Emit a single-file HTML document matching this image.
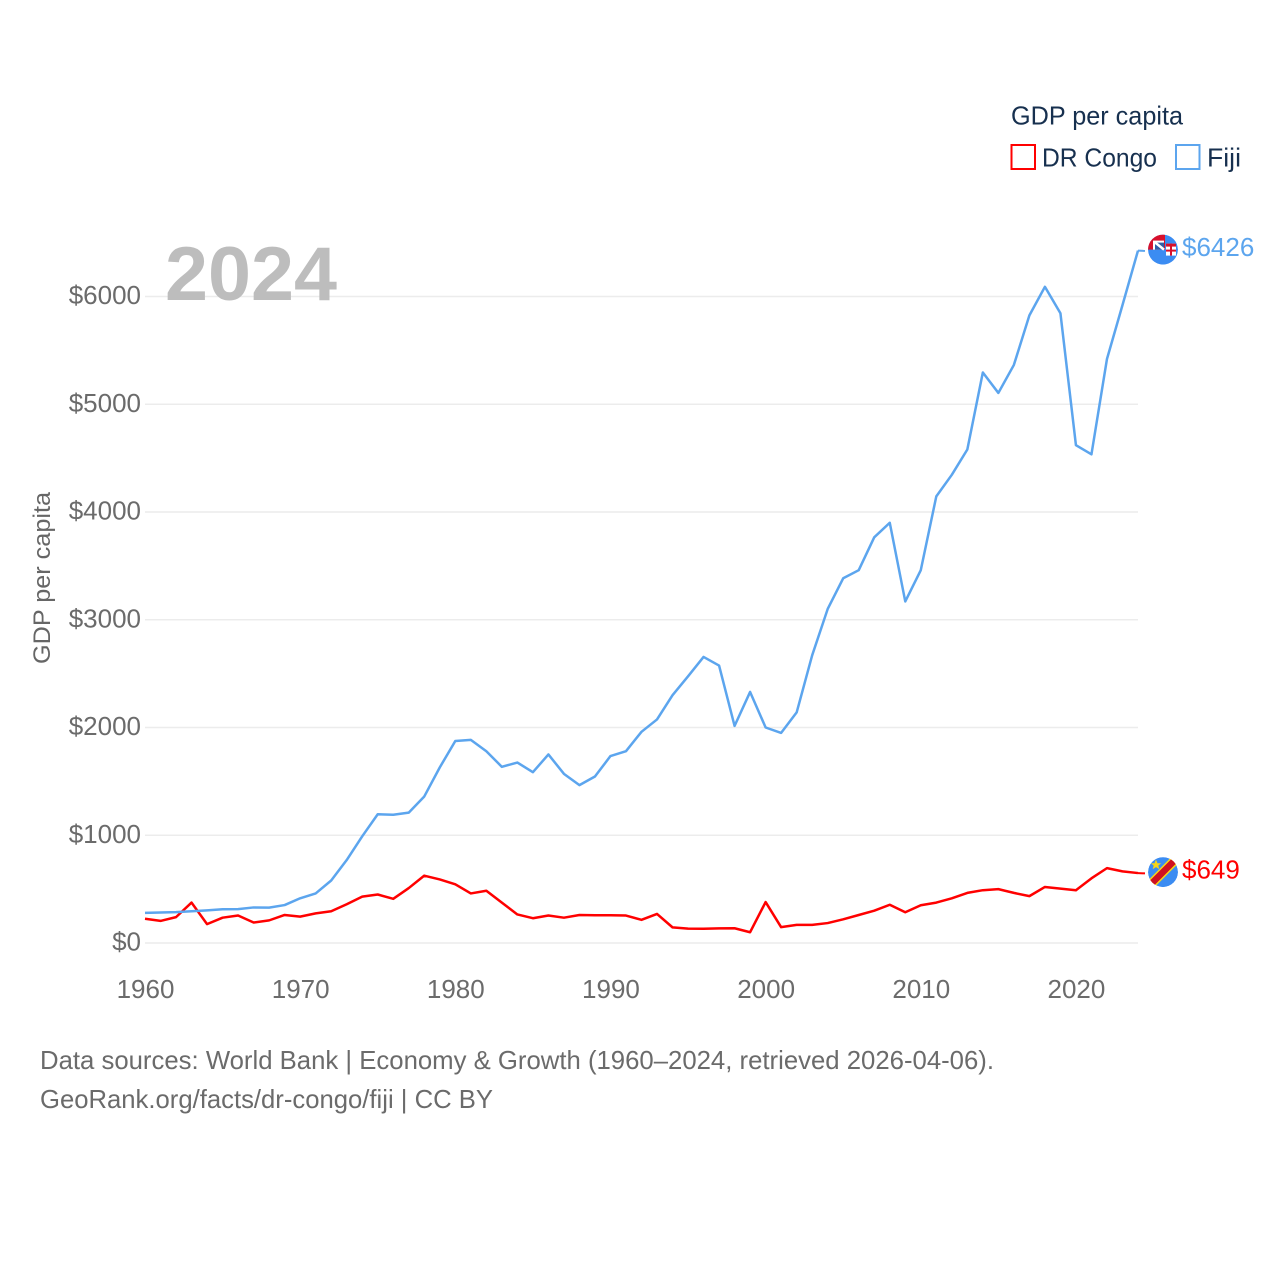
<!DOCTYPE html>
<html lang="en">
<head>
<meta charset="utf-8">
<title>GDP per capita: DR Congo and Fiji</title>
<style>
html,body{margin:0;padding:0;background:#fff;}
svg{display:block;}
text{font-family:"Liberation Sans",sans-serif;}
</style>
</head>
<body>
<svg id="chart" width="1280" height="1280" viewBox="0 0 1280 1280" xmlns="http://www.w3.org/2000/svg">
  <defs>
    <clipPath id="flag-clip"><circle cx="0" cy="0" r="15"></circle></clipPath>
  </defs>
  <rect width="1280" height="1280" fill="#ffffff"></rect>
  <g id="grid"></g>
  <g id="y-ticks"></g>
  <g id="x-ticks"></g>
  <text x="165" y="300" font-size="76" font-weight="700" fill="#bdbdbd" textLength="172" lengthAdjust="spacingAndGlyphs">2024</text>
  <text transform="translate(50,664) rotate(-90)" font-size="24" fill="#666666" textLength="172" lengthAdjust="spacingAndGlyphs">GDP per capita</text>
  <path id="line-congo" fill="none" stroke="#ff0000" stroke-width="2.5" stroke-linejoin="round"></path>
  <path id="line-fiji" fill="none" stroke="#5ca5ee" stroke-width="2.5" stroke-linejoin="round"></path>
  <path id="connector-congo" fill="none" stroke="#ff0000" stroke-width="2"></path>
  <path id="connector-fiji" fill="none" stroke="#5ca5ee" stroke-width="2"></path>
  <g id="flag-fiji">
    <g clip-path="url(#flag-clip)">
      <circle cx="0" cy="0" r="15" fill="#3b8cf2"></circle>
      <rect x="-15" y="-15" width="17" height="15" fill="#d8102c"></rect>
      <rect x="-10" y="-9" width="11" height="9" fill="#ffffff"></rect>
      <rect x="-8" y="-7" width="9" height="7" fill="#2f5fa8"></rect>
      <path d="M-9 -8 L1 0" stroke="#ffffff" stroke-width="2.5"></path>
      <rect x="3" y="-6" width="10" height="12" fill="#ffffff"></rect>
      <rect x="3" y="-6" width="10" height="3" fill="#d8102c"></rect>
      <rect x="7" y="-6" width="2" height="12" fill="#d8102c"></rect>
      <rect x="3" y="0" width="10" height="2" fill="#d8102c"></rect>
    </g>
  </g>
  <g id="flag-congo">
    <g clip-path="url(#flag-clip)">
      <circle cx="0" cy="0" r="15" fill="#3b8cf2"></circle>
      <path d="M-15 15 L15 -15" stroke="#f7d518" stroke-width="9.5"></path>
      <path d="M-15 15 L15 -15" stroke="#ce1021" stroke-width="6.5"></path>
      <path transform="translate(0,-3)" d="M-7 -9.5 L-5.5 -5.8 L-1.8 -5.8 L-4.7 -3.4 L-3.7 0 L-7 -2 L-10.3 0 L-9.3 -3.4 L-12.2 -5.8 L-8.5 -5.8 Z" fill="#f7d518"></path>
    </g>
  </g>
  <text id="value-fiji" x="1182" font-size="26" fill="#5ca5ee"></text>
  <text id="value-congo" x="1182" font-size="26" fill="#ff0000"></text>
  <text x="1011" y="124.5" font-size="26" fill="#17304f" textLength="172" lengthAdjust="spacingAndGlyphs">GDP per capita</text>
  <rect x="1011.5" y="145" width="23.5" height="24" fill="none" stroke="#ff0000" stroke-width="2"></rect>
  <text x="1042" y="166.5" font-size="26" fill="#17304f" textLength="115" lengthAdjust="spacingAndGlyphs">DR Congo</text>
  <rect x="1176" y="145" width="23.5" height="24" fill="none" stroke="#5ca5ee" stroke-width="2"></rect>
  <text x="1207" y="166.5" font-size="26" fill="#17304f" textLength="34" lengthAdjust="spacingAndGlyphs">Fiji</text>
  <text x="40" y="1069" font-size="26" fill="#6b6b6b" textLength="954" lengthAdjust="spacingAndGlyphs">Data sources: World Bank | Economy &amp; Growth (1960–2024, retrieved 2026-04-06).</text>
  <text x="40" y="1108" font-size="26" fill="#6b6b6b" textLength="453" lengthAdjust="spacingAndGlyphs">GeoRank.org/facts/dr-congo/fiji | CC BY</text>
</svg>
<script>
const startYear = 1960;
const yTickValues = [0, 1000, 2000, 3000, 4000, 5000, 6000];
const xTickYears = [1960, 1970, 1980, 1990, 2000, 2010, 2020];
const fijiValues = [280, 283, 286, 295, 303, 313, 314, 330, 328, 352, 415, 460, 580, 770, 990, 1195, 1190, 1210, 1360, 1630, 1875, 1885, 1780, 1635, 1675, 1585, 1750, 1570, 1465, 1545, 1735, 1780, 1960, 2075, 2300, 2475, 2655, 2575, 2015, 2330, 2000, 1950, 2140, 2670, 3100, 3385, 3460, 3765, 3900, 3170, 3460, 4145, 4345, 4580, 5295, 5105, 5365, 5825, 6090, 5845, 4620, 4535, 5420, 5920, 6426];
const congoValues = [225, 205, 240, 375, 175, 235, 255, 190, 210, 260, 245, 275, 295, 360, 430, 450, 410, 510, 625, 590, 545, 460, 485, 375, 265, 230, 255, 235, 260, 258, 258, 255, 215, 270, 145, 133, 132, 136, 137, 100, 380, 147, 168, 168, 185, 220, 260, 300, 355, 285, 350, 375, 415, 465, 490, 500, 465, 435, 520, 505, 490, 600, 695, 665, 649];

const NS = 'http://www.w3.org/2000/svg';
const plotLeft = 145, plotRight = 1138, plotBottom = 943, plotTop = 296.5;
const endYear = startYear + fijiValues.length - 1;
function xScale(year) {
  return plotLeft + (year - startYear) * (plotRight - plotLeft) / (endYear - startYear);
}
function yScale(value) {
  return plotBottom - value * (plotBottom - plotTop) / 6000;
}
function linePath(values) {
  return values.map(function (v, i) {
    return (i ? 'L' : 'M') + xScale(startYear + i).toFixed(2) + ' ' + yScale(v).toFixed(2);
  }).join(' ');
}

const gridGroup = document.getElementById('grid');
const yTickGroup = document.getElementById('y-ticks');
const xTickGroup = document.getElementById('x-ticks');

yTickValues.forEach(function (v) {
  const line = document.createElementNS(NS, 'line');
  
  
  line.setAttribute('x1', plotLeft);
  line.setAttribute('x2', plotRight);
  line.setAttribute('y1', yScale(v));
  line.setAttribute('y2', yScale(v));
  line.setAttribute('stroke', '#ececec');
  line.setAttribute('stroke-width', '1.5');
  gridGroup.appendChild(line);

  const label = document.createElementNS(NS, 'text');
  
  
  label.setAttribute('x', 141);
  label.setAttribute('y', yScale(v) + 7.5);
  label.setAttribute('text-anchor', 'end');
  label.setAttribute('font-size', '26');
  label.setAttribute('fill', '#6b6b6b');
  label.textContent = '$' + v;
  yTickGroup.appendChild(label);
});

xTickYears.forEach(function (year) {
  const label = document.createElementNS(NS, 'text');
  
  
  label.setAttribute('x', xScale(year) + 0.5);
  label.setAttribute('y', 998);
  label.setAttribute('text-anchor', 'middle');
  label.setAttribute('font-size', '26');
  label.setAttribute('fill', '#6b6b6b');
  label.textContent = String(year);
  xTickGroup.appendChild(label);
});

document.getElementById('line-fiji').setAttribute('d', linePath(fijiValues));
document.getElementById('line-congo').setAttribute('d', linePath(congoValues));

function placeEnd(values, key) {
  const last = values[values.length - 1];
  const yEnd = yScale(last);
  document.getElementById('connector-' + key).setAttribute('d', 'M' + plotRight + ' ' + yEnd.toFixed(2) + ' L1145 ' + (yEnd + 0.3).toFixed(2));
  document.getElementById('flag-' + key).setAttribute('transform', 'translate(1163,' + (yEnd - 1).toFixed(2) + ')');
  const text = document.getElementById('value-' + key);
  text.setAttribute('y', (yEnd + 5.5).toFixed(2));
  text.textContent = '$' + last;
}
placeEnd(fijiValues, 'fiji');
placeEnd(congoValues, 'congo');
</script>
</body>
</html>
